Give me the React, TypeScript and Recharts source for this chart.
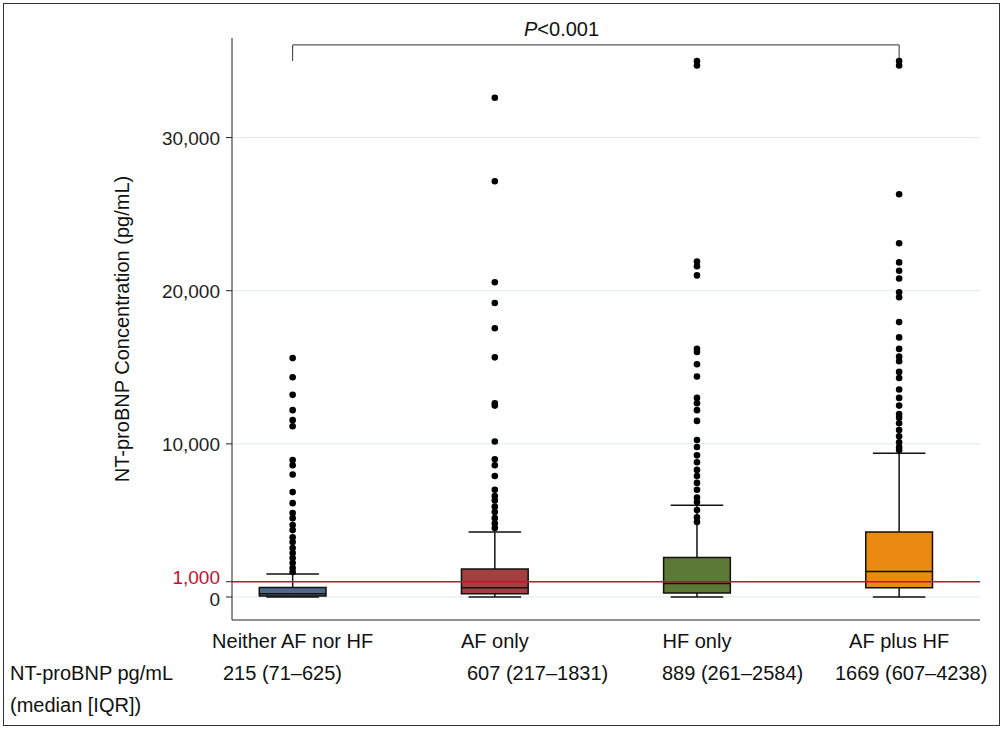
import React from 'react';
import {
  ComposedChart, Scatter, XAxis, YAxis, CartesianGrid, ReferenceLine, ReferenceArea, Label,
} from 'recharts';

const groups = ['Neither AF nor HF', 'AF only', 'HF only', 'AF plus HF'];
const summaries = ['215 (71\u2013625)', '607 (217\u20131831)', '889 (261\u20132584)', '1669 (607\u20134238)'];
const colors = ['#4d6a8c', '#a3403f', '#5c7a36', '#ea8a10'];
const whiskerLow = [0, 0, 0, 0];
const q1 = [71, 217, 261, 607];
const median = [215, 607, 889, 1669];
const q3 = [625, 1831, 2584, 4238];
const whiskerHigh = [1500, 4240, 6000, 9390];
const outliers = [
  [15600, 14350, 13200, 12200, 11550, 11150, 8950, 8600, 8000, 6850, 6130, 5480, 5150, 4700, 4370, 3900, 3590, 3200, 2870, 2540, 2220, 1890, 1630],
  [32600, 27150, 20550, 19200, 17550, 15650, 12650, 12500, 10150, 9000, 8600, 7900, 7000, 6600, 6300, 5900, 5550, 5150, 4800, 4500],
  [35000, 34700, 21900, 21600, 21000, 16200, 16000, 15200, 14400, 13000, 12650, 12200, 11500, 10250, 9800, 9250, 8800, 8300, 7900, 7450, 7000, 6500, 6200, 5680, 5200, 4900],
  [35000, 34700, 26300, 23100, 21850, 21300, 20800, 19900, 19570, 17950, 16950, 16200, 15700, 15400, 14700, 14300, 13550, 13000, 12500, 11950, 11700, 11350, 10900, 10500, 10100, 9800, 9600],
];
const yTicks = [0, 1000, 10000, 20000, 30000];

const font = 'Liberation Sans, Arial, sans-serif';
const BOX = 0.165;
const CAP = 0.13;

const outlierData = outliers.flatMap((vals, i) => vals.map(v => ({ x: i + 1, y: v })));

const YTick = ({ x, y, payload }: any) => {
  const red = payload.value === 1000;
  return (
    <text x={x - 4} y={y + (payload.value === 0 ? 9 : red ? 2 : 7)} textAnchor="end" fontSize={19} fontFamily={font} fill={red ? '#c8102e' : '#222'}>
      {payload.value.toLocaleString('en-US')}
    </text>
  );
};

const XTick = ({ x, y, payload }: any) => (
  <text x={x} y={y + 20} textAnchor="middle" fontSize={20} fontFamily={font} fill="#111">
    {groups[payload.value - 1]}
  </text>
);

export default function App() {
  return (
    <div style={{ position: 'absolute', left: 0, top: 0, width: 1005, height: 729, background: '#fff', fontFamily: font }}>
      <div style={{ position: 'absolute', left: 3, top: 3, width: 997, height: 723, border: '1px solid #333', boxSizing: 'border-box' }} />
      <ComposedChart width={1005} height={729} margin={{ top: 38, right: 25, left: 227, bottom: 79 }}>
        <CartesianGrid horizontal vertical={false} stroke="#e3e8ea" horizontalValues={[0, 10000, 20000, 30000]} />
        <XAxis type="number" dataKey="x" domain={[0.7, 4.4]} ticks={[1, 2, 3, 4]} interval={0} height={30} tick={<XTick />} tickLine={false} axisLine={{ stroke: '#222' }} allowDataOverflow />
        <YAxis type="number" dataKey="y" domain={[-1500, 36500]} ticks={yTicks} interval={0} tick={<YTick />} width={5} tickLine={{ stroke: '#222' }} tickSize={6} axisLine={{ stroke: '#222' }} allowDataOverflow>
          <Label value="NT-proBNP Concentration (pg/mL)" angle={-90} position="insideLeft" offset={-105} style={{ fontSize: 20, fontFamily: font, fill: '#111', textAnchor: 'middle' }} />
        </YAxis>
        {groups.map((g, i) => (
          <ReferenceLine key={'wl' + g} segment={[{ x: i + 1, y: whiskerLow[i] }, { x: i + 1, y: q1[i] }]} stroke="#111" strokeWidth={1.5} />
        ))}
        {groups.map((g, i) => (
          <ReferenceLine key={'wh' + g} segment={[{ x: i + 1, y: q3[i] }, { x: i + 1, y: whiskerHigh[i] }]} stroke="#111" strokeWidth={1.5} />
        ))}
        {groups.map((g, i) => (
          <ReferenceLine key={'cl' + g} segment={[{ x: i + 1 - CAP, y: whiskerLow[i] }, { x: i + 1 + CAP, y: whiskerLow[i] }]} stroke="#111" strokeWidth={1.5} />
        ))}
        {groups.map((g, i) => (
          <ReferenceLine key={'ch' + g} segment={[{ x: i + 1 - CAP, y: whiskerHigh[i] }, { x: i + 1 + CAP, y: whiskerHigh[i] }]} stroke="#111" strokeWidth={1.5} />
        ))}
        {groups.map((g, i) => (
          <ReferenceArea key={'b' + g} x1={i + 1 - BOX} x2={i + 1 + BOX} y1={q1[i]} y2={q3[i]} fill={colors[i]} fillOpacity={1} stroke="#111" strokeWidth={1.5} />
        ))}
        {groups.map((g, i) => (
          <ReferenceLine key={'m' + g} segment={[{ x: i + 1 - BOX, y: median[i] }, { x: i + 1 + BOX, y: median[i] }]} stroke="#111" strokeWidth={1.5} />
        ))}
        <ReferenceLine y={1000} stroke="#c8102e" strokeWidth={1.5} />
        <Scatter data={outlierData} fill="#000" isAnimationActive={false} shape={(p: any) => <circle cx={p.cx} cy={p.cy} r={3.3} fill="#000" />} />
        <ReferenceLine segment={[{ x: 1, y: 36050 }, { x: 4, y: 36050 }]} stroke="#333" />
        <ReferenceLine segment={[{ x: 1, y: 36050 }, { x: 1, y: 35000 }]} stroke="#333" />
        <ReferenceLine segment={[{ x: 4, y: 36050 }, { x: 4, y: 35000 }]} stroke="#333" />
      </ComposedChart>
      <div style={{ position: 'absolute', left: 524, top: 18, fontSize: 20, color: '#111' }}><i>P</i>&lt;0.001</div>
      <div style={{ position: 'absolute', left: 10, top: 662, fontSize: 20, color: '#111' }}>NT-proBNP pg/mL</div>
      <div style={{ position: 'absolute', left: 10, top: 694, fontSize: 20, color: '#111' }}>(median [IQR])</div>
      {summaries.map((s, i) => (
        <div key={s} style={{ position: 'absolute', left: [223, 467, 662, 835][i], top: 662, fontSize: 20, color: '#111', whiteSpace: 'nowrap' }}>{s}</div>
      ))}
    </div>
  );
}
